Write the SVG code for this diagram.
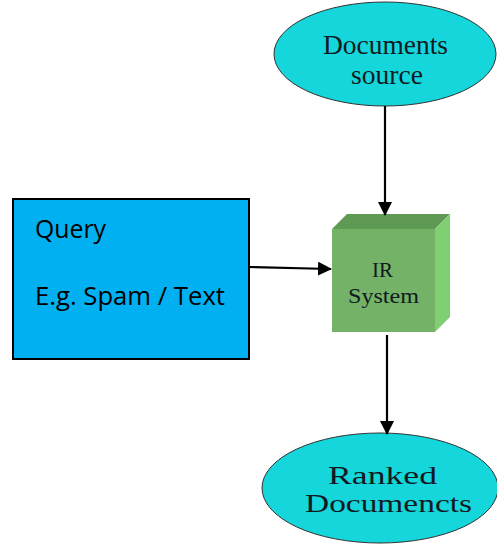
<svg xmlns="http://www.w3.org/2000/svg" width="497" height="544" viewBox="0 0 497 544">
<style>
.ell{fill:#15d6da;stroke:#333;stroke-width:1}
.serif{font-family:"Liberation Serif","Times New Roman",serif;fill:#111a22}
.sans{font-family:"Open Sans","Liberation Sans",sans-serif;fill:#000}
.conn{stroke:#000;stroke-width:2.2;fill:none;marker-end:url(#ah)}
</style>
<defs>
<marker id="ah" markerWidth="14" markerHeight="14" refX="13" refY="7" orient="auto" markerUnits="userSpaceOnUse" viewBox="0 0 14 14">
<path d="M0,0 L14,7 L0,14 Z" fill="#000"/>
</marker>
</defs>
<rect width="497" height="544" fill="#fff"/>
<g id="documents-source">
<ellipse class="ell" cx="385" cy="54" rx="111" ry="52"/>
<text class="serif" x="323" y="54" font-size="27" textLength="125" lengthAdjust="spacingAndGlyphs">Documents</text>
<text class="serif" x="351" y="84" font-size="27" textLength="72" lengthAdjust="spacingAndGlyphs">source</text>
</g>
<g id="query">
<rect x="13" y="199" width="236" height="160" fill="#00b0f0" stroke="#000" stroke-width="2"/>
<text class="sans" x="35" y="238" font-size="25" textLength="71" lengthAdjust="spacingAndGlyphs">Query</text>
<text class="sans" x="35" y="305" font-size="25" textLength="190" lengthAdjust="spacingAndGlyphs">E.g. Spam / Text</text>
</g>
<g id="ir-system">
<polygon points="332,229 347,214 450,214 435,229" fill="#5f9a55"/>
<polygon points="435,229 450,214 450,317 435,332" fill="#80cf72"/>
<rect x="332" y="229" width="103" height="103" fill="#73b267"/>
<text class="serif" x="372" y="277" font-size="22" textLength="21" lengthAdjust="spacingAndGlyphs">IR</text>
<text class="serif" x="348" y="303" font-size="22" textLength="71" lengthAdjust="spacingAndGlyphs">System</text>
</g>
<g id="ranked-documents">
<ellipse class="ell" cx="380" cy="488" rx="118" ry="55"/>
<text class="serif" x="328" y="484" font-size="25" textLength="109" lengthAdjust="spacingAndGlyphs">Ranked</text>
<text class="serif" x="305" y="512" font-size="25" textLength="167" lengthAdjust="spacingAndGlyphs">Documencts</text>
</g>
<g id="connectors">
<line class="conn" x1="385" y1="106" x2="385" y2="215"/>
<line class="conn" x1="249" y1="267" x2="331" y2="269"/>
<line class="conn" x1="387" y1="335" x2="387" y2="434"/>
</g>
</svg>
